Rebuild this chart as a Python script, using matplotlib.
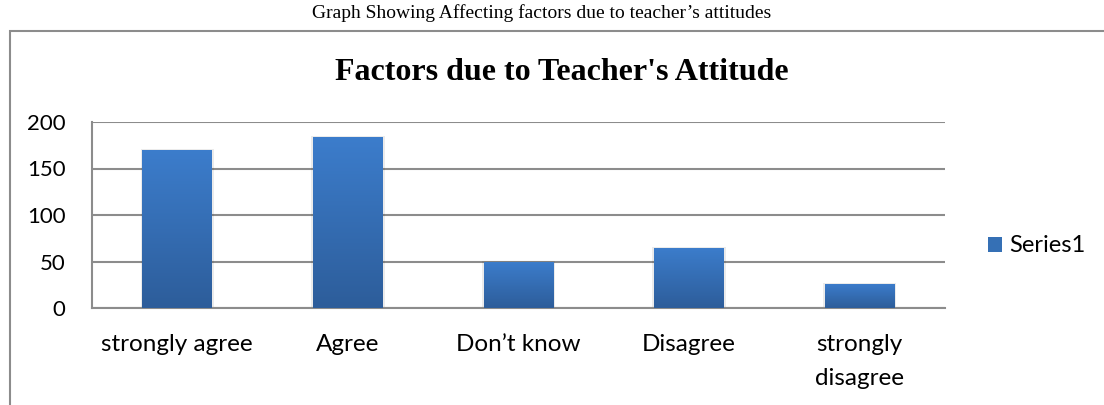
import numpy as np
import matplotlib.pyplot as plt
from matplotlib.patches import Rectangle
from matplotlib.colors import LinearSegmentedColormap

categories = ['strongly agree', 'Agree', 'Don\u2019t know', 'Disagree', 'strongly\ndisagree']
values = [170, 184, 50, 65, 26]
yticks = [0, 50, 100, 150, 200]

W, H = 1104, 405
fig = plt.figure(figsize=(W / 100, H / 100), dpi=100)

# plot area in pixels: x 92..945, y 122..308
ax = fig.add_axes([92 / W, 1 - 308 / H, (945 - 92) / W, (308 - 122) / H])

sans = ['Lato', 'DejaVu Sans']
serif = ['Liberation Serif', 'DejaVu Serif']

x = np.arange(len(categories))
bars = ax.bar(x, values, width=0.41, color='#3570B5', zorder=3, label='Series1')

# vertical gradient on each bar
cmap = LinearSegmentedColormap.from_list('blu', ['#2D5D9A', '#3C7DCC'])
grad = np.linspace(0, 1, 256).reshape(-1, 1)
for b in bars:
    x0, y0 = b.get_x(), b.get_y()
    w, h = b.get_width(), b.get_height()
    # faint shadow
    ax.add_patch(Rectangle((x0 - 0.01, y0), w + 0.02, h + 1, color='#000000',
                           alpha=0.08, zorder=2, lw=0))
    im = ax.imshow(grad, cmap=cmap, origin='lower', aspect='auto',
                   extent=[x0, x0 + w, y0, y0 + h], zorder=4)
    im.set_clip_path(b)

ax.set_xlim(-0.5, len(categories) - 0.5)
ax.set_ylim(0, 200)
ax.set_yticks(yticks)
ax.set_xticks(x)
ax.set_xticklabels(categories, fontsize=17.5, family=sans, linespacing=1.75)
ax.tick_params(axis='x', length=0, pad=19)
ax.tick_params(axis='y', length=0, pad=19, labelsize=16)
for lab in ax.get_yticklabels():
    lab.set_family(sans)

ax.grid(axis='y', color='#8c8c8c', lw=1.5, zorder=1)
for s in ['top', 'right']:
    ax.spines[s].set_visible(False)
for s in ['left', 'bottom']:
    ax.spines[s].set_color('#8c8c8c')
    ax.spines[s].set_linewidth(1.5)

leg = ax.legend(loc='center left', bbox_to_anchor=(967 / W, 1 - 246 / H),
                bbox_transform=fig.transFigure, frameon=False,
                prop={'family': sans, 'size': 17}, handlelength=0.6,
                handleheight=0.6, handletextpad=0.3)

# outer chart border
fig.patches.append(Rectangle((10 / W, -0.1), 1.2, 1 - 31 / H + 0.1,
                             transform=fig.transFigure, fill=False,
                             edgecolor='#8c8c8c', lw=1.5))

fig.text(542 / W, 1 - 13 / H, 'Graph Showing Affecting factors due to teacher\u2019s attitudes',
         ha='center', va='center', fontsize=14, family=serif)
fig.text(562 / W, 1 - 73 / H, "Factors due to Teacher's Attitude",
         ha='center', va='center', fontsize=23, fontweight='bold', family=serif)

fig.savefig('out.png', dpi=100)
